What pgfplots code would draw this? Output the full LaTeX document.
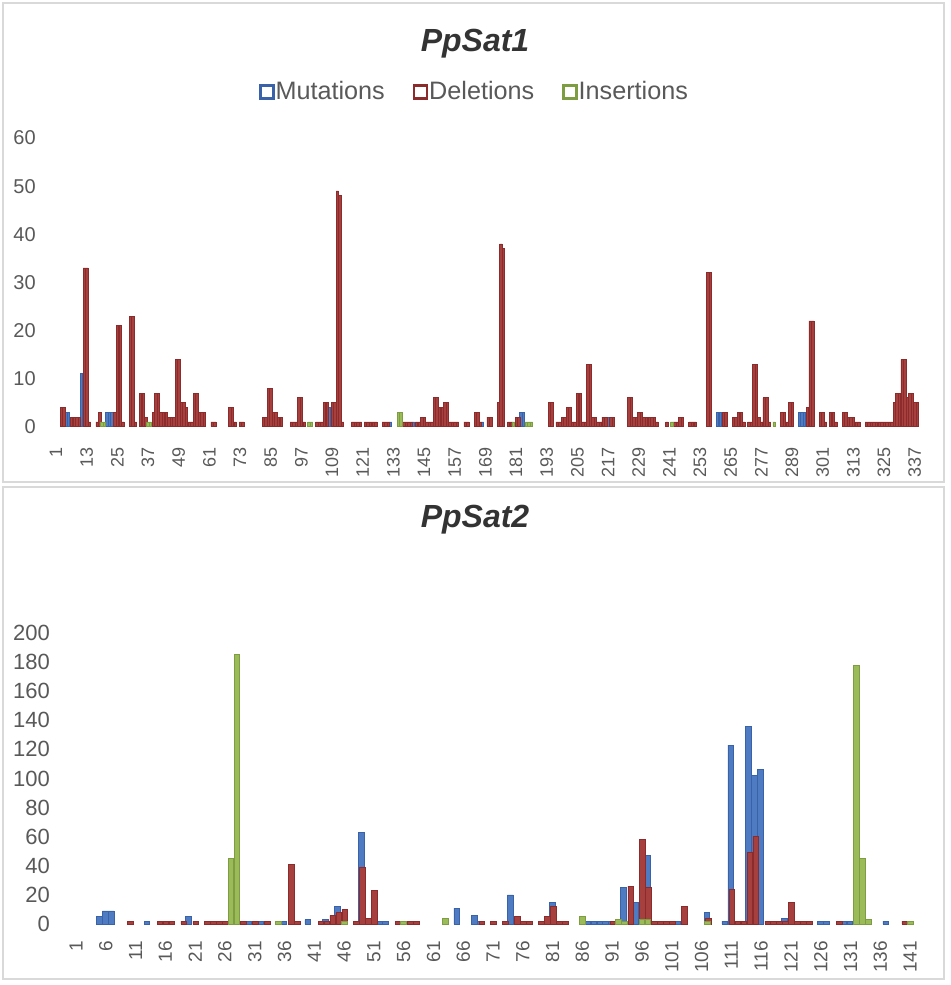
\documentclass[border=0pt]{standalone}
\usepackage{fontspec}
\setmainfont{Liberation Sans}
\usepackage{pgfplots}
\pgfplotsset{compat=1.18}
\definecolor{mutF}{HTML}{4F7BC2}
\definecolor{mutD}{HTML}{3A62A8}
\definecolor{delF}{HTML}{A5403F}
\definecolor{delD}{HTML}{8C2B2B}
\definecolor{insF}{HTML}{9BBB59}
\definecolor{insD}{HTML}{7E9C42}
\definecolor{txt}{HTML}{595959}
\definecolor{framec}{HTML}{D9D9D9}
\pgfplotsset{
  sqlegend/.style={legend image code/.code={\draw[##1, fill=white, line width=1.3pt] (0pt,-3.2pt) rectangle (6.4pt,3.2pt);}},
  panel/.style={scale only axis, axis x line=bottom, axis y line=left, axis line style={draw=none},
    major tick length=0pt, ymin=0, clip=false,
    tick label style={text=txt}, /pgf/number format/assume math mode=true},
  mut/.style={ybar, bar width=0.95, bar shift=-0.1, fill=mutF, draw=mutD, line width=0.35pt, sqlegend},
  del/.style={ybar, bar width=0.95, bar shift=0.1, fill=delF, draw=delD, line width=0.35pt, sqlegend},
  ins/.style={ybar, bar width=0.95, bar shift=0, fill=insF, draw=insD, line width=0.35pt, sqlegend},
}
\begin{document}
\begin{tikzpicture}
\path[use as bounding box] (0,0) rectangle (475pt,-492.5pt);
\fill[white] (0,0) rectangle (475pt,-492.5pt);
\draw[framec, line width=0.8pt] (1.5pt,-1.5pt) rectangle (472pt,-241pt);
\draw[framec, line width=0.8pt] (1.5pt,-243.5pt) rectangle (472pt,-489.5pt);
\node[text=black!80, font=\fontsize{16}{19}\selectfont\bfseries\itshape] at (237.5pt,-21.8pt) {PpSat1};
\node[text=black!80, font=\fontsize{16}{19}\selectfont\bfseries\itshape] at (237.5pt,-260pt) {PpSat2};

\begin{axis}[panel, at={(27.35pt,-213.35pt)}, anchor=south west,
  width=437pt, height=144.35pt,
  xmin=0.5, xmax=342.5, ymax=60,
  xtick={1,13,...,337}, ytick={0,10,...,60},
  xticklabel style={yshift=-7pt, rotate=90, anchor=east, font=\fontsize{9}{11}\selectfont},
  yticklabel style={font=\fontsize{10}{12}\selectfont, xshift=-6pt},
  legend columns=3,
  legend style={at={(0.4815,1.159)}, anchor=center, draw=none, fill=none,
    font=\fontsize{12.6}{14}\selectfont, text=txt,
    /tikz/every even column/.append style={column sep=12pt},
    /tikz/every odd column/.append style={column sep=-1.5pt}},
]
\addplot[mut] coordinates {(5,3)(6,3)(11,11)(21,3)(22,3)(23,3)(108,4)(132,1)(141,1)(168,1)(183,3)(184,3)(217,2)(260,3)(261,3)(292,3)(293,3)(294,3)};
\addplot[del] coordinates {(3,4)(4,4)(7,2)(8,2)(9,2)(10,2)(12,33)(13,33)(14,1)(17,1)(18,3)(24,3)(25,21)(26,21)(27,1)(30,23)(31,23)(32,1)(34,7)(35,7)(36,2)(39,3)(40,7)(41,7)(42,3)(43,3)(44,3)(45,2)(46,2)(47,2)(48,14)(49,14)(50,5)(51,5)(52,4)(53,1)(54,1)(55,7)(56,7)(57,3)(58,3)(59,3)(62,1)(63,1)(69,4)(70,4)(71,1)(73,1)(74,1)(82,2)(83,2)(84,8)(85,8)(86,3)(87,3)(88,2)(89,2)(93,1)(94,1)(95,1)(96,6)(97,6)(98,1)(103,1)(104,1)(105,1)(106,5)(107,5)(109,5)(110,5)(111,49)(112,48)(113,1)(117,1)(118,1)(119,1)(120,1)(122,1)(123,1)(124,1)(125,1)(126,1)(129,1)(130,1)(131,1)(137,1)(138,1)(139,1)(140,1)(142,1)(143,1)(144,2)(145,2)(146,1)(147,1)(148,1)(149,6)(150,6)(151,4)(152,4)(153,5)(154,5)(155,1)(156,1)(157,1)(158,1)(161,1)(162,1)(165,3)(166,3)(167,1)(170,2)(171,2)(174,5)(175,38)(176,37)(178,1)(179,1)(181,2)(182,2)(194,5)(195,5)(197,1)(198,1)(199,2)(200,2)(201,4)(202,4)(203,1)(204,1)(205,7)(206,7)(207,1)(208,1)(209,13)(210,13)(211,2)(212,2)(213,1)(214,1)(215,2)(216,2)(218,2)(219,2)(225,6)(226,6)(227,2)(228,2)(229,3)(230,3)(231,2)(232,2)(233,2)(234,2)(235,2)(236,1)(240,1)(243,1)(244,1)(245,2)(246,2)(249,1)(250,1)(251,1)(256,32)(257,32)(262,3)(263,3)(266,2)(267,2)(268,3)(269,3)(270,1)(272,1)(273,1)(274,13)(275,13)(276,2)(277,1)(278,6)(279,6)(280,1)(285,3)(286,3)(287,1)(288,5)(289,5)(295,4)(296,22)(297,22)(300,3)(301,3)(302,1)(304,3)(305,3)(306,1)(309,3)(310,3)(311,2)(312,2)(313,2)(314,1)(315,1)(318,1)(319,1)(320,1)(321,1)(322,1)(323,1)(324,1)(325,1)(326,1)(327,1)(328,1)(329,5)(330,7)(331,7)(332,14)(333,14)(334,6)(335,7)(336,7)(337,5)(338,5)};
\addplot[ins] coordinates {(19,1)(20,1)(37,1)(38,1)(100,1)(101,1)(135,3)(136,3)(180,1)(185,1)(186,1)(187,1)(242,1)(282,1)};
\legend{Mutations,Deletions,Insertions}
\end{axis}

\begin{axis}[panel, at={(36.5pt,-462pt)}, anchor=south west,
  width=426pt, height=145.5pt,
  xmin=0.5, xmax=143.5, ymax=200,
  xtick={1,6,...,141}, ytick={0,20,...,200},
  xticklabel style={yshift=-5pt, rotate=90, anchor=east, font=\fontsize{9.5}{11}\selectfont},
  yticklabel style={font=\fontsize{11}{13}\selectfont, xshift=-8pt},
]
\addplot[mut] coordinates {(5,5)(6,9)(7,9)(13,2)(17,2)(20,5)(30,2)(32,2)(36,2)(40,3)(43,3)(45,12)(49,63)(52,2)(53,2)(65,11)(68,6)(69,2)(74,20)(81,15)(87,2)(88,2)(89,2)(90,2)(91,2)(93,25)(95,15)(97,47)(102,2)(107,8)(110,2)(111,123)(114,136)(115,102)(116,106)(120,4)(126,2)(127,2)(130,2)(131,2)(137,2)};
\addplot[del] coordinates {(10,2)(15,2)(16,2)(17,2)(19,2)(21,2)(23,2)(24,2)(25,2)(26,2)(29,2)(31,2)(33,2)(37,41)(38,2)(42,2)(43,2)(44,6)(45,8)(46,10)(48,2)(49,39)(50,4)(51,23)(55,2)(57,2)(58,2)(69,2)(71,2)(73,2)(75,5)(76,2)(77,2)(79,2)(80,5)(81,12)(82,2)(83,2)(91,2)(94,26)(96,58)(97,25)(98,2)(99,2)(100,2)(101,2)(103,12)(107,4)(111,24)(112,2)(113,2)(114,49)(115,60)(117,2)(118,2)(119,2)(120,2)(121,15)(122,2)(123,2)(124,2)(129,2)(140,2)};
\addplot[ins] coordinates {(27,45)(28,185)(35,2)(46,2)(56,2)(63,4)(86,5)(92,3)(93,2)(96,3)(97,3)(107,2)(132,178)(133,45)(134,3)(141,2)};
\end{axis}
\end{tikzpicture}
\end{document}
